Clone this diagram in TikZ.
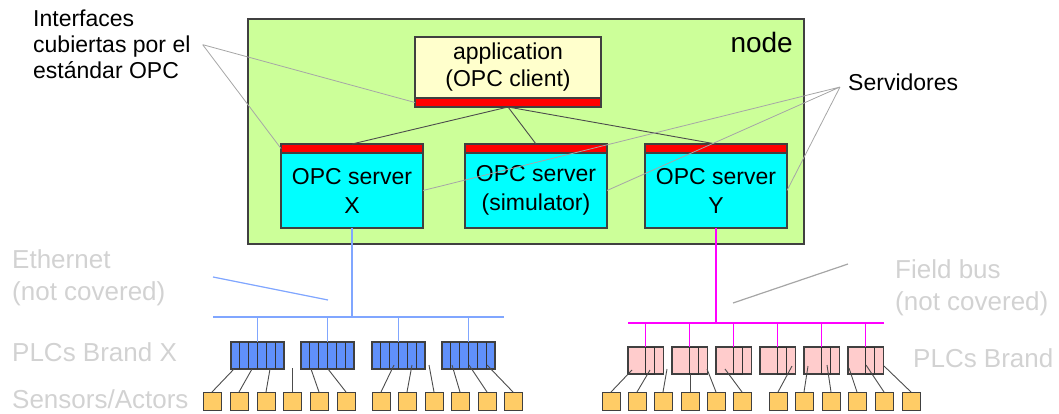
\documentclass[tikz,border=0pt]{standalone}
\usepackage{fontspec}
\setmainfont{Liberation Sans}
\definecolor{vert}{HTML}{CCFF99}
\definecolor{jaune}{HTML}{FFFFCC}
\definecolor{cyanvif}{HTML}{00FFFF}
\definecolor{magvif}{HTML}{FF00FF}
\definecolor{bleu}{HTML}{6090FA}
\definecolor{bleuclair}{HTML}{80A6FF}
\definecolor{rose}{HTML}{FFCCCC}
\definecolor{ambre}{HTML}{FFCC66}
\definecolor{pale}{HTML}{D2D2D2}

\begin{document}
\begin{tikzpicture}[x=1pt,y=-1pt,
  cadre/.style={draw=black!75,line width=1.2pt,inner sep=0pt,outer sep=0pt},
  appbox/.style={cadre,fill=jaune,minimum width=186pt,minimum height=61pt,
    align=center,font=\fontsize{23}{27}\selectfont},
  rouge/.style={cadre,fill=red,minimum width=#1,minimum height=9pt},
  serveur/.style={cadre,fill=cyanvif,minimum width=142pt,minimum height=75pt,
    align=center,font=\fontsize{23}{29}\selectfont},
  plcx/.style={cadre,fill=bleu,minimum width=53pt,minimum height=27pt,anchor=north west},
  plcy/.style={cadre,fill=rose,minimum width=35.5pt,minimum height=27pt,anchor=north west},
  capteur/.style={cadre,line width=1pt,fill=ambre,minimum size=18pt,anchor=north west},
  fil/.style={black!70,line width=0.9pt},
  note/.style={black!35,line width=0.8pt},
  palefont/.style={text=pale,font=\fontsize{26}{32}\selectfont,align=left,inner sep=0pt},
  legende/.style={font=\fontsize{23}{26}\selectfont,align=left,inner sep=0pt}]
  \useasboundingbox (0,0) rectangle (1059,413);

  % le poste
  \node[cadre,fill=vert,minimum width=556pt,minimum height=225pt,anchor=north west]
     (poste) at (248,19) {};
  \node[anchor=east,inner sep=0pt,font=\fontsize{28}{30}\selectfont] (nom) at (793,42) {node};

  % application (client)
  \node[appbox,anchor=north west] (appli) at (415,37) {application\\(OPC client)};
  \node[rouge=186pt,anchor=north] (appif) at (appli.south) {};

  % serveurs
  \node[rouge=142pt,anchor=north west] (ifx) at (281,144) {};
  \node[serveur,anchor=north] (srvx) at (ifx.south) {OPC server\\X};
  \node[rouge=142pt,anchor=north west] (ifs) at (465,144) {};
  \node[serveur,anchor=north] (srvs) at (ifs.south) {OPC server\\(simulator)};
  \node[rouge=142pt,anchor=north west] (ify) at (645,144) {};
  \node[serveur,anchor=north] (srvy) at (ify.south) {OPC server\\Y};
  \draw[fil] (appif.south) -- (ifx.north)
             (appif.south) -- (ifs.north)
             (appif.south) -- (ify.north);

  % bus
  \coordinate (ethg) at (213,317); \coordinate (ethd) at (504,317);
  \coordinate (fbg) at (628,323);  \coordinate (fbd) at (884,323);
  \draw[bleuclair,line width=1.3pt] (ethg) -- (ethd)
     (srvx.south) -- (srvx.south |- ethg);
  \draw[magvif,line width=1.3pt] (fbg) -- (fbd)
     (srvy.south) -- (srvy.south |- fbg);

  % automates marque X
  \foreach \i/\x in {1/231,2/301,3/372,4/442} {
    \node[plcx] (px\i) at (\x,342) {};
    \foreach \k in {1,...,5}
      \draw[black!80,line width=1pt] ([xshift=\k*8.83pt]px\i.north west) -- ([xshift=\k*8.83pt]px\i.south west);
    \draw[bleuclair,line width=1.3pt] (px\i.north |- ethg) -- (px\i.north);
  }
  % automates marque Y
  \foreach \i/\x in {1/628,2/672,3/716,4/760,5/804,6/848} {
    \node[plcy] (py\i) at (\x,347) {};
    \draw[black!80,line width=1pt] ([xshift=17.5pt]py\i.north west) rectangle ([xshift=26.5pt]py\i.south west);
    \draw[magvif,line width=1.3pt] ([xshift=17.5pt]py\i.north west |- fbg) -- ([xshift=17.5pt]py\i.north west);
  }

  % capteurs / actionneurs
  \foreach \i/\x in {1/203,2/230,3/257,4/283,5/310,6/337,7/372,8/398,9/425,10/451,11/478,12/504}
    \node[capteur] (sx\i) at (\x,392) {};
  \foreach \i/\x in {1/602,2/628,3/654,4/681,5/707,6/733,7/769,8/795,9/822,10/848,11/875,12/902}
    \node[capteur] (sy\i) at (\x,392) {};

  % fils vers capteurs
  \foreach \p/\dx/\dy/\s in {px1/3/0/1,px1/21/0/2,px1/39/0/3,px1/61/1/4,px2/10/0/5,px2/27/0/6,
                             px3/22/4/7,px3/40/4/8,px3/57/4/9,px4/10/4/10,px4/27/4/11,px4/45/4/12}
    \draw[fil] ([xshift=\dx pt,yshift=\dy pt]\p.south west) -- (sx\s.north);
  \foreach \p/\dx/\dy/\s in {py1/4/4/1,py1/22/4/2,py1/39/5/3,py2/18/0/4,py2/35/5/5,py3/9/5/6,
                             py4/32/8/7,py5/4/8/8,py5/23/9/9,py6/1/6/10,py6/18/9/11,py6/36/8/12}
    \draw[fil] ([xshift=\dx pt,yshift=\dy pt]\p.south west) -- (sy\s.north);

  % annotations
  \node[legende,anchor=north west] (interf) at (33,10) {Interfaces\\cubiertas por el\\estándar OPC};
  \coordinate (pinterf) at ([xshift=12pt]interf.east);
  \draw[note] (pinterf) -- (appif.west)
              (pinterf) -- (ifx.west);
  \node[legende,anchor=west] (serv) at (848,82) {Servidores};
  \coordinate (pserv) at ([xshift=-8pt,yshift=-5pt]serv.west);
  \draw[note] (pserv) -- (srvx.east)
              (pserv) -- (srvs.east)
              (pserv) -- (srvy.east);

  % textes pales
  \node[palefont,anchor=west] (ether) at (12,278) {Ethernet\\(not covered)};
  \node[palefont,anchor=west] (marqx) at (12,352) {PLCs Brand X};
  \node[palefont,anchor=base west] (sensact) at (12,408) {Sensors/Actors};
  \node[palefont,anchor=west] (fbus) at (895,288) {Field bus\\(not covered)};
  \node[palefont,anchor=west] (marqy) at (913,358) {PLCs Brand};
  \coordinate (ethA) at (213,277); \coordinate (ethB) at (328,300);
  \draw[bleuclair,line width=1.2pt] (ethA) -- (ethB);
  \coordinate (fbA) at (733,303); \coordinate (fbB) at (848,264);
  \draw[black!35,line width=1.2pt] (fbA) -- (fbB);
\end{tikzpicture}
\end{document}
